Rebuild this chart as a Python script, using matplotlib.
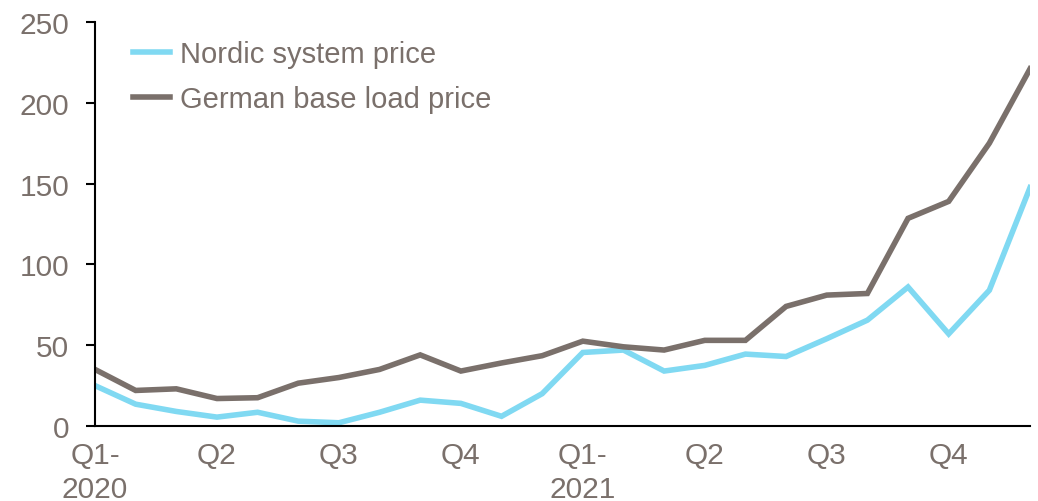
import matplotlib.pyplot as plt

months = list(range(24))
tick_pos = [0, 3, 6, 9, 12, 15, 18, 21]
tick_labels = ["Q1-\n2020", "Q2", "Q3", "Q4", "Q1-\n2021", "Q2", "Q3", "Q4"]

nordic = [25, 13.5, 9, 5.5, 8.5, 3, 2, 8.5, 16, 14, 6, 20,
          45.5, 47, 34, 37.5, 44.5, 43, 54, 65.5, 86, 57, 84, 147.5]
german = [35, 22, 23, 17, 17.5, 26.5, 30, 35, 44, 34, 39, 43.5,
          52.5, 49, 47, 53, 53, 74, 81, 82, 128.5, 139, 175, 221]

text_col = "#7a706b"
plt.rcParams["font.family"] = ["Liberation Sans", "DejaVu Sans"]

fig = plt.figure(figsize=(10.38, 5.02), dpi=100)
ax = fig.add_axes([95 / 1038, 75 / 502, 935 / 1038, 404 / 502])

ax.plot(months, nordic, color="#80d9f2", lw=4, label="Nordic system price", solid_joinstyle="miter")
ax.plot(months, german, color="#7a706b", lw=4, label="German base load price", solid_joinstyle="miter")

ax.set_xlim(0, 23)
ax.set_ylim(0, 250)
ax.set_yticks([0, 50, 100, 150, 200, 250])
ax.set_xticks(tick_pos)
ax.set_xticklabels(tick_labels, linespacing=1.25)
ax.tick_params(axis="x", length=0, pad=11, labelsize=21.5, labelcolor=text_col)
ax.tick_params(axis="y", length=6.5, width=1.5, direction="out", pad=12, labelsize=21.5, labelcolor=text_col)
for s in ["top", "right"]:
    ax.spines[s].set_visible(False)
ax.spines["left"].set_linewidth(1.5)
ax.spines["bottom"].set_linewidth(1.5)

leg = ax.legend(loc="upper left", bbox_to_anchor=(0.0216, 1.0), frameon=False, fontsize=21,
                handlelength=1.27, handletextpad=0.35, labelspacing=0.59, labelcolor=text_col,
                borderpad=0.2, borderaxespad=0.41)

fig.savefig("out.png", dpi=100)
